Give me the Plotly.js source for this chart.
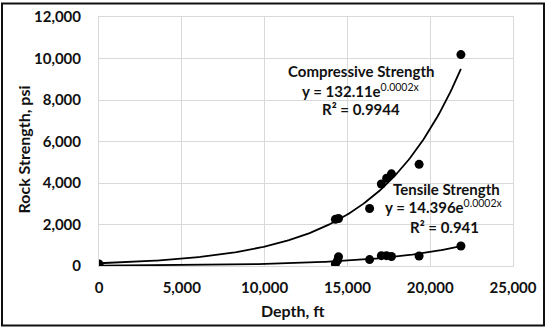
<!DOCTYPE html>
<html>
<head>
<meta charset="utf-8">
<script src="https://cdn.plot.ly/plotly-3.0.1.min.js"></script>
<style>html,body{margin:0;padding:0;background:#fff;}#chart{width:550px;height:330px;}</style>
</head>
<body>
<div id="chart"></div>
<script>
// Data
const compDepth = [0, 14275, 14463, 16340, 17050, 17370, 17660, 19330, 21855];
const compStrength = [100, 2250, 2290, 2770, 3950, 4230, 4440, 4900, 10190];
const tensDepth = [0, 14275, 14400, 14463, 16340, 17050, 17360, 17660, 19330, 21855];
const tensStrength = [10, 100, 260, 440, 310, 500, 500, 460, 480, 964];

// Trendline coefficients (exponential fit y = a*e^(b*x)), as drawn
const compFit = {a: 132.11, b: 0.0001956};
const tensFit = {a: 14.396, b: 0.0001923};
const fitMaxDepth = 21855;

const xTicks = [0, 5000, 10000, 15000, 20000, 25000];
const yTicks = [0, 2000, 4000, 6000, 8000, 10000, 12000];

const fitX = [];
for (let i = 0; i <= 200; i++) fitX.push(fitMaxDepth * i / 200);
const compFitY = fitX.map(x => compFit.a * Math.exp(compFit.b * x));
const tensFitY = fitX.map(x => tensFit.a * Math.exp(tensFit.b * x));

const W = 550, H = 330;
const M = {l: 99, r: 37, t: 17, b: 64};
const PW = W - M.l - M.r, PH = H - M.t - M.b;
const px = x => (x - M.l) / PW;
const py = y => (H - M.b - y) / PH;

const FONT = 'Lato, "Open Sans", sans-serif';
const TXT = '#111';
const fmt = v => v.toLocaleString('en-US');

const traces = [
  {x: fitX, y: compFitY, mode: 'lines', line: {color: '#000', width: 1.8}, hoverinfo: 'skip'},
  {x: fitX, y: tensFitY, mode: 'lines', line: {color: '#000', width: 1.8}, hoverinfo: 'skip'},
  {x: compDepth, y: compStrength, mode: 'markers', marker: {color: '#000', size: 9}},
  {x: tensDepth, y: tensStrength, mode: 'markers', marker: {color: '#000', size: 9}}
];

const annFont = {family: FONT, size: 15, color: TXT, weight: 'bold'};
const sup = s => '<sup><span style="font-weight:normal">' + s + '</span></sup>';
const ann = (x, y, text) => ({x, y, xref: 'x', yref: 'y', text, showarrow: false, font: annFont,
  xanchor: 'center', yanchor: 'middle'});

const layout = {
  width: W, height: H,
  margin: M,
  paper_bgcolor: '#fff', plot_bgcolor: '#fff',
  showlegend: false,
  font: {family: FONT, color: TXT},
  xaxis: {
    range: [0, 25000], tickvals: xTicks, ticktext: xTicks.map(fmt),
    showgrid: true, gridcolor: '#d9d9d9', gridwidth: 1,
    zeroline: false, showline: true, linecolor: '#d9d9d9', linewidth: 1, mirror: true,
    ticks: '', ticklabelstandoff: 8,
    tickfont: {family: FONT, size: 15, color: TXT, weight: 'bold'}
  },
  yaxis: {
    range: [0, 12000], tickvals: yTicks, ticktext: yTicks.map(fmt),
    showgrid: true, gridcolor: '#d9d9d9', gridwidth: 1,
    zeroline: false, showline: true, linecolor: '#d9d9d9', linewidth: 1, mirror: true,
    ticks: '', ticklabelstandoff: 14,
    tickfont: {family: FONT, size: 15, color: TXT, weight: 'bold'}
  },
  annotations: [
    ann(15800, 9383, 'Compressive Strength'),
    ann(15800, 8467, 'y = 132.11e' + sup('0.0002x')),
    ann(15800, 7552, 'R² = 0.9944'),
    ann(21008, 3700, 'Tensile Strength'),
    ann(20857, 2880, 'y = 14.396e' + sup('0.0002x')),
    ann(20870, 1880, 'R² = 0.941'),
    {x: px(293), y: py(310.7), xref: 'paper', yref: 'paper', text: 'Depth, ft', showarrow: false,
     xanchor: 'center', yanchor: 'middle',
     font: {family: FONT, size: 16, color: TXT, weight: 'bold'}},
    {x: px(22.5), y: py(150), xref: 'paper', yref: 'paper', text: 'Rock Strength, psi', showarrow: false, textangle: -90,
     xanchor: 'center', yanchor: 'middle',
     font: {family: FONT, size: 16, color: TXT, weight: 'bold'}}
  ],
  shapes: [
    {type: 'rect', xref: 'paper', yref: 'paper', x0: px(2), x1: px(544), y0: py(3.5), y1: py(325.5),
     line: {color: '#111', width: 2}, fillcolor: 'rgba(0,0,0,0)', layer: 'above'}
  ]
};

Plotly.newPlot('chart', traces, layout, {displayModeBar: false, staticPlot: true});
</script>
</body>
</html>
